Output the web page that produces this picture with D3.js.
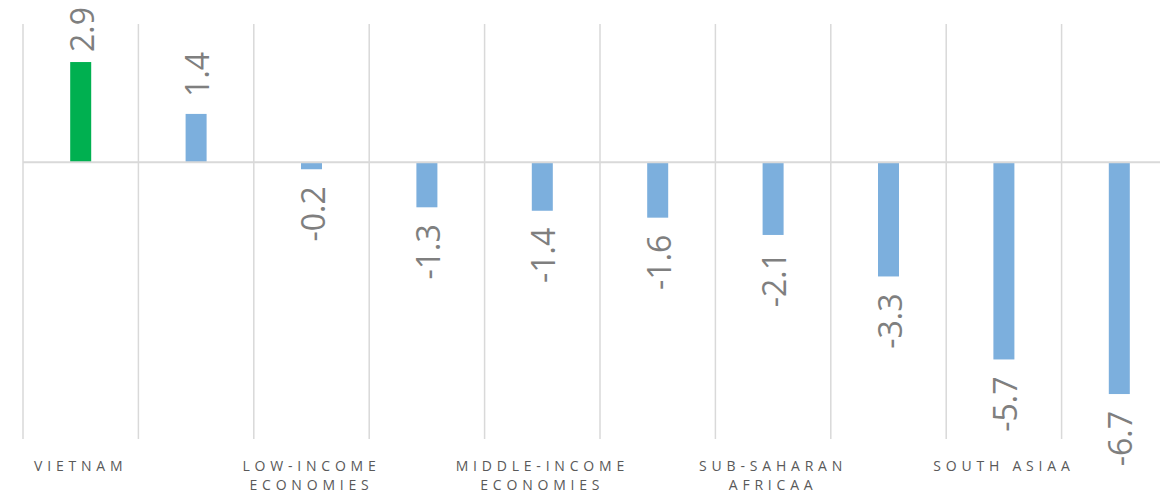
<!DOCTYPE html>
<html>
<head>
<meta charset="utf-8">
<script src="https://cdn.jsdelivr.net/npm/d3@7"></script>
<style>
  html, body { margin: 0; padding: 0; background: #ffffff; overflow: hidden; }
  svg { display: block; }
</style>
</head>
<body>
<svg id="chart" width="1160" height="493"></svg>
<script>
// ---- data ----
const categories = ["VIETNAM", "", "LOW-INCOME ECONOMIES", "", "MIDDLE-INCOME ECONOMIES", "", "SUB-SAHARAN AFRICAA", "", "SOUTH ASIAA", ""];
const tickLines = [["VIETNAM"], [], ["LOW-INCOME", "ECONOMIES"], [], ["MIDDLE-INCOME", "ECONOMIES"], [], ["SUB-SAHARAN", "AFRICAA"], [], ["SOUTH ASIAA"], []];
const values = [2.9, 1.4, -0.2, -1.3, -1.4, -1.6, -2.1, -3.3, -5.7, -6.7];
const highlight = [true, false, false, false, false, false, false, false, false, false];
const yDomain = [-8, 4];

// ---- layout ----
const W = 1160, H = 493;
const plotLeft = 23, step = 115.4, plotTop = 24, plotBottom = 439;
const svg = d3.select("#chart");

const idx = d3.range(categories.length);
const x = d3.scaleBand().domain(idx).range([plotLeft, plotLeft + step * categories.length]).padding(0);
const y = d3.scaleLinear().domain(yDomain).range([plotBottom, plotTop]);
const barW = 21;

// vertical gridlines at category boundaries
const bounds = idx.map(i => x(i)).concat([x(idx.length - 1) + x.bandwidth()]);
svg.append("g").selectAll("line").data(bounds).join("line")
  .attr("x1", d => d).attr("x2", d => d)
  .attr("y1", plotTop).attr("y2", plotBottom)
  .attr("stroke", "#d9d9d9").attr("stroke-width", 1.5);

// bars
svg.append("g").selectAll("rect").data(values).join("rect")
  .attr("x", (d, i) => x(i) + x.bandwidth() / 2 - barW / 2)
  .attr("width", barW)
  .attr("y", d => y(Math.max(0, d)))
  .attr("height", d => Math.abs(y(d) - y(0)))
  .attr("fill", (d, i) => highlight[i] ? "#00b050" : "#7cafdd");

// zero line
svg.append("line")
  .attr("x1", plotLeft).attr("x2", W)
  .attr("y1", y(0)).attr("y2", y(0))
  .attr("stroke", "#d9d9d9").attr("stroke-width", 2);

// value labels (rotated)
const gap = 17;
const lab = svg.append("g").selectAll("text").data(values).join("text")
  .attr("font-family", "'Open Sans', sans-serif")
  .attr("font-size", 32)
  .attr("fill", "#7f7f7f")
  .attr("text-anchor", d => d >= 0 ? "start" : "end")
  .text(d => d.toFixed(1));
lab.each(function (d, i) {
  const len = this.getComputedTextLength();
  const cx = x(i) + x.bandwidth() / 2 + 13;
  let ty;
  if (d >= 0) {
    ty = y(d) - gap;
    ty = Math.max(ty, 7 + len);
  } else {
    ty = y(d) + gap;
  }
  d3.select(this).attr("transform", `translate(${cx},${ty}) rotate(-90)`);
});

// category axis
const axis = d3.axisBottom(x).tickSize(0).tickFormat(i => categories[i]);
const gx = svg.append("g").attr("transform", `translate(0,${plotBottom})`).call(axis);
gx.select(".domain").remove();
gx.selectAll(".tick text").each(function (i) {
  const t = d3.select(this);
  t.text(null)
    .attr("y", 0).attr("dy", null)
    .attr("font-family", "'Open Sans', sans-serif")
    .attr("font-size", 14)
    .attr("fill", "#595959")
    .attr("letter-spacing", "4.8px");
  tickLines[i].forEach((ln, k) => {
    t.append("tspan").attr("x", 0).attr("y", 31.5 + k * 19.5).text(ln);
  });
});
</script>
</body>
</html>
